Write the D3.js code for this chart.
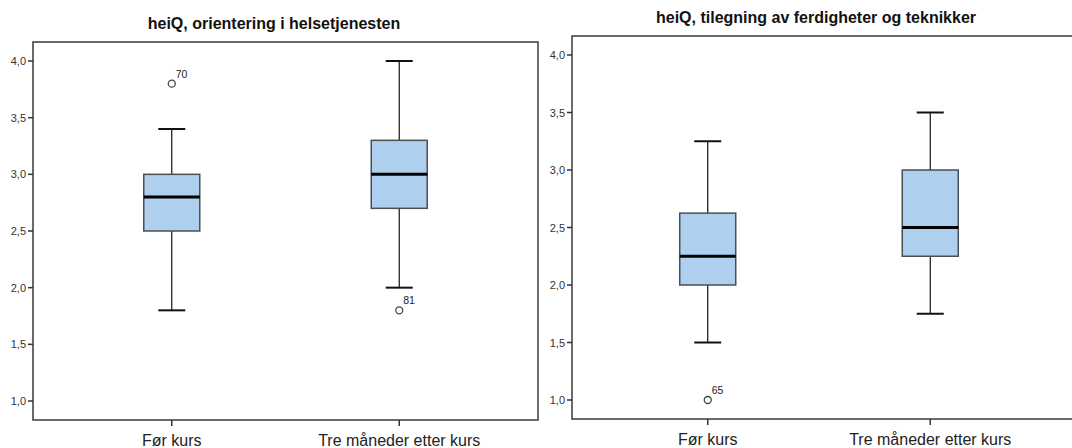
<!DOCTYPE html>
<html>
  <head>
    <meta charset="utf-8" />
    <title>heiQ boxplots</title>
    <script src="https://d3js.org/d3.v7.min.js"></script>
    <style>
      body {
        margin: 0;
        background: #fff;
      }
      svg {
        display: block;
        font-family: "Liberation Sans", Arial, sans-serif;
      }
      .tick-label {
        font-size: 11px;
        fill: #333;
      }
      .cat-label {
        font-size: 16px;
        fill: #222;
      }
      .title {
        font-size: 16px;
        font-weight: bold;
        fill: #111;
      }
    </style>
  </head>
  <body>
    <svg id="chart" width="1072" height="448"></svg>
    <script>
      // data
      const categories = ["Før kurs", "Tre måneder etter kurs"];
      const yTicks = [1.0, 1.5, 2.0, 2.5, 3.0, 3.5, 4.0];

      // [low whisker, Q1, median, Q3, high whisker]
      const orientTitle = "heiQ, orientering i helsetjenesten";
      const orientBoxes = [
        [1.8, 2.5, 2.8, 3.0, 3.4],
        [2.0, 2.7, 3.0, 3.3, 4.0]
      ];
      const orientOutliers = [
        { cat: 0, value: 3.8, id: "70" },
        { cat: 1, value: 1.8, id: "81" }
      ];

      const skillTitle = "heiQ, tilegning av ferdigheter og teknikker";
      const skillBoxes = [
        [1.5, 2.0, 2.25, 2.625, 3.25],
        [1.75, 2.25, 2.5, 3.0, 3.5]
      ];
      const skillOutliers = [{ cat: 0, value: 1.0, id: "65" }];

      const svg = d3.select("#chart");
      const fmt = d => d3.format(".1f")(d).replace(".", ",");

      function drawPanel({ left, right, frameRight, top, bottom, y4, y1, title, titleX, titleY, boxes, outliers }) {
        const g = svg.append("g");

        // y scale from tick pixel positions
        const y = d3.scaleLinear().domain([1, 4]).range([y1, y4]);
        const x = d3.scalePoint().domain(categories).range([left, right]).padding(0.61);

        g.append("text")
          .attr("class", "title")
          .attr("x", titleX)
          .attr("y", titleY)
          .attr("text-anchor", "middle")
          .text(title);

        // frame
        g.append("rect")
          .attr("x", left)
          .attr("y", top)
          .attr("width", frameRight - left)
          .attr("height", bottom - top)
          .attr("fill", "none")
          .attr("stroke", "#3a3a3a")
          .attr("stroke-width", 1.5);

        // y axis ticks
        yTicks.forEach(t => {
          g.append("line")
            .attr("x1", left - 5).attr("x2", left)
            .attr("y1", y(t)).attr("y2", y(t))
            .attr("stroke", "#333").attr("stroke-width", 1.5);
          g.append("text")
            .attr("class", "tick-label")
            .attr("x", left - 7)
            .attr("y", y(t) + 4)
            .attr("text-anchor", "end")
            .text(fmt(t));
        });

        // x axis ticks + labels
        categories.forEach(c => {
          g.append("line")
            .attr("x1", x(c)).attr("x2", x(c))
            .attr("y1", bottom).attr("y2", bottom + 6)
            .attr("stroke", "#333").attr("stroke-width", 1.5);
          g.append("text")
            .attr("class", "cat-label")
            .attr("x", x(c))
            .attr("y", bottom + 26)
            .attr("text-anchor", "middle")
            .text(c);
        });

        const boxW = 56, capW = 27;

        boxes.forEach((b, i) => {
          const cx = x(categories[i]);
          // whiskers
          g.append("line")
            .attr("x1", cx).attr("x2", cx)
            .attr("y1", y(b[0])).attr("y2", y(b[1]))
            .attr("stroke", "#111").attr("stroke-width", 1.2);
          g.append("line")
            .attr("x1", cx).attr("x2", cx)
            .attr("y1", y(b[3])).attr("y2", y(b[4]))
            .attr("stroke", "#111").attr("stroke-width", 1.2);
          [b[0], b[4]].forEach(v => {
            g.append("line")
              .attr("x1", cx - capW / 2).attr("x2", cx + capW / 2)
              .attr("y1", y(v)).attr("y2", y(v))
              .attr("stroke", "#111").attr("stroke-width", 2);
          });
          // box
          g.append("rect")
            .attr("x", cx - boxW / 2)
            .attr("y", y(b[3]))
            .attr("width", boxW)
            .attr("height", y(b[1]) - y(b[3]))
            .attr("fill", "#aecfee")
            .attr("stroke", "#4a4f55")
            .attr("stroke-width", 1.5);
          // median
          g.append("line")
            .attr("x1", cx - boxW / 2).attr("x2", cx + boxW / 2)
            .attr("y1", y(b[2])).attr("y2", y(b[2]))
            .attr("stroke", "#000").attr("stroke-width", 3);
        });

        outliers.forEach(o => {
          const cx = x(categories[o.cat]);
          g.append("circle")
            .attr("cx", cx)
            .attr("cy", y(o.value))
            .attr("r", 3.5)
            .attr("fill", "#fff")
            .attr("stroke", "#444")
            .attr("stroke-width", 1.3);
          g.append("text")
            .attr("x", cx + 4)
            .attr("y", y(o.value) - 6)
            .attr("font-size", 10.5)
            .attr("fill", "#222")
            .text(o.id);
        });
      }

      drawPanel({
        left: 33, right: 538, frameRight: 538, top: 42, bottom: 420,
        y4: 61, y1: 401,
        title: orientTitle, titleX: 274, titleY: 29,
        boxes: orientBoxes, outliers: orientOutliers
      });

      drawPanel({
        left: 572, right: 1066, frameRight: 1090, top: 36, bottom: 419,
        y4: 55, y1: 400,
        title: skillTitle, titleX: 816, titleY: 23,
        boxes: skillBoxes, outliers: skillOutliers
      });
    </script>
  </body>
</html>
